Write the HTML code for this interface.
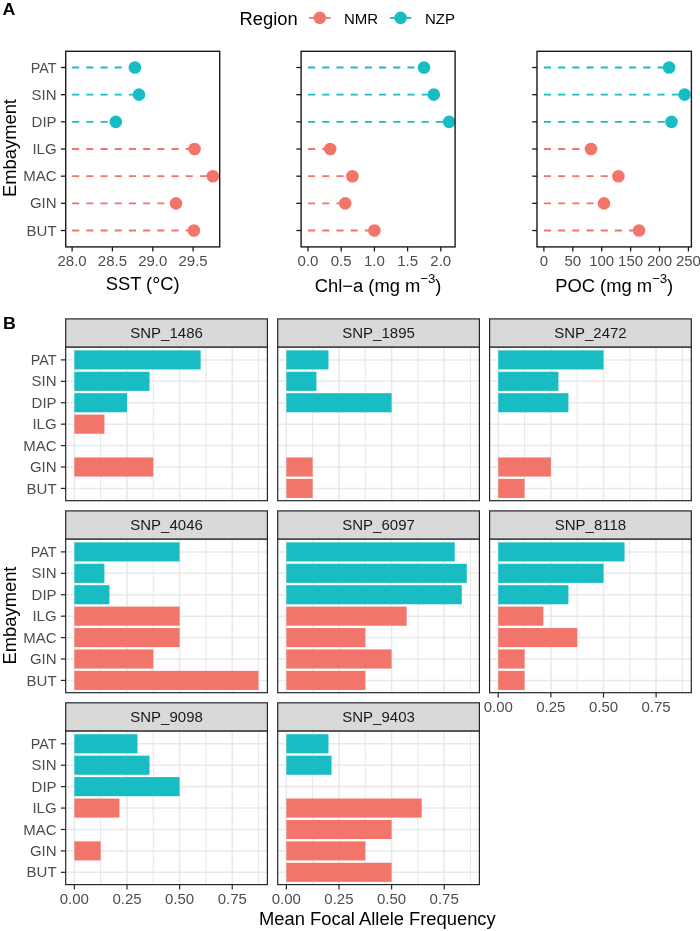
<!DOCTYPE html>
<html><head><meta charset="utf-8"><title>Figure</title>
<style>
html,body{margin:0;padding:0;background:#fff;}
body{width:700px;height:931px;overflow:hidden;}
svg{display:block;font-family:"Liberation Sans", sans-serif;will-change:transform;}
</style></head>
<body>
<svg width="700" height="931" viewBox="0 0 700 931">
<rect x="0" y="0" width="700" height="931" fill="#fff"/>
<clipPath id="clipA0"><rect x="65.7" y="51.3" width="154" height="195.6"/></clipPath>
<g clip-path="url(#clipA0)">
<line x1="72.1" y1="67.5" x2="134.9" y2="67.5" stroke="#17BDC3" stroke-width="1.8" stroke-dasharray="7.1 7.1"/>
<line x1="72.1" y1="94.67" x2="139" y2="94.67" stroke="#17BDC3" stroke-width="1.8" stroke-dasharray="7.1 7.1"/>
<line x1="72.1" y1="121.84" x2="115.8" y2="121.84" stroke="#17BDC3" stroke-width="1.8" stroke-dasharray="7.1 7.1"/>
<line x1="72.1" y1="149.01" x2="194.5" y2="149.01" stroke="#F2756C" stroke-width="1.8" stroke-dasharray="7.1 7.1"/>
<line x1="72.1" y1="176.18" x2="212.9" y2="176.18" stroke="#F2756C" stroke-width="1.8" stroke-dasharray="7.1 7.1"/>
<line x1="72.1" y1="203.35" x2="176" y2="203.35" stroke="#F2756C" stroke-width="1.8" stroke-dasharray="7.1 7.1"/>
<line x1="72.1" y1="230.52" x2="193.9" y2="230.52" stroke="#F2756C" stroke-width="1.8" stroke-dasharray="7.1 7.1"/>
<circle cx="134.9" cy="67.5" r="6.3" fill="#17BDC3"/>
<circle cx="139" cy="94.67" r="6.3" fill="#17BDC3"/>
<circle cx="115.8" cy="121.84" r="6.3" fill="#17BDC3"/>
<circle cx="194.5" cy="149.01" r="6.3" fill="#F2756C"/>
<circle cx="212.9" cy="176.18" r="6.3" fill="#F2756C"/>
<circle cx="176" cy="203.35" r="6.3" fill="#F2756C"/>
<circle cx="193.9" cy="230.52" r="6.3" fill="#F2756C"/>
</g>
<rect x="65.7" y="51.3" width="154" height="195.6" fill="none" stroke="#1A1A1A" stroke-width="1.4"/>
<line x1="60.9" y1="67.5" x2="65.7" y2="67.5" stroke="#1A1A1A" stroke-width="1.3"/>
<line x1="60.9" y1="94.67" x2="65.7" y2="94.67" stroke="#1A1A1A" stroke-width="1.3"/>
<line x1="60.9" y1="121.84" x2="65.7" y2="121.84" stroke="#1A1A1A" stroke-width="1.3"/>
<line x1="60.9" y1="149.01" x2="65.7" y2="149.01" stroke="#1A1A1A" stroke-width="1.3"/>
<line x1="60.9" y1="176.18" x2="65.7" y2="176.18" stroke="#1A1A1A" stroke-width="1.3"/>
<line x1="60.9" y1="203.35" x2="65.7" y2="203.35" stroke="#1A1A1A" stroke-width="1.3"/>
<line x1="60.9" y1="230.52" x2="65.7" y2="230.52" stroke="#1A1A1A" stroke-width="1.3"/>
<line x1="72.1" y1="246.9" x2="72.1" y2="251.4" stroke="#1A1A1A" stroke-width="1.3"/>
<text x="72.1" y="265.6" font-size="15" text-anchor="middle" fill="#4D4D4D" font-weight="normal" >28.0</text>
<line x1="112.4" y1="246.9" x2="112.4" y2="251.4" stroke="#1A1A1A" stroke-width="1.3"/>
<text x="112.4" y="265.6" font-size="15" text-anchor="middle" fill="#4D4D4D" font-weight="normal" >28.5</text>
<line x1="152.8" y1="246.9" x2="152.8" y2="251.4" stroke="#1A1A1A" stroke-width="1.3"/>
<text x="152.8" y="265.6" font-size="15" text-anchor="middle" fill="#4D4D4D" font-weight="normal" >29.0</text>
<line x1="193.1" y1="246.9" x2="193.1" y2="251.4" stroke="#1A1A1A" stroke-width="1.3"/>
<text x="193.1" y="265.6" font-size="15" text-anchor="middle" fill="#4D4D4D" font-weight="normal" >29.5</text>
<clipPath id="clipA1"><rect x="301.1" y="51.3" width="154" height="195.6"/></clipPath>
<g clip-path="url(#clipA1)">
<line x1="308.0" y1="67.5" x2="424" y2="67.5" stroke="#17BDC3" stroke-width="1.8" stroke-dasharray="7.1 7.1"/>
<line x1="308.0" y1="94.67" x2="433.8" y2="94.67" stroke="#17BDC3" stroke-width="1.8" stroke-dasharray="7.1 7.1"/>
<line x1="308.0" y1="121.84" x2="449.1" y2="121.84" stroke="#17BDC3" stroke-width="1.8" stroke-dasharray="7.1 7.1"/>
<line x1="308.0" y1="149.01" x2="330.2" y2="149.01" stroke="#F2756C" stroke-width="1.8" stroke-dasharray="7.1 7.1"/>
<line x1="308.0" y1="176.18" x2="352.4" y2="176.18" stroke="#F2756C" stroke-width="1.8" stroke-dasharray="7.1 7.1"/>
<line x1="308.0" y1="203.35" x2="345.2" y2="203.35" stroke="#F2756C" stroke-width="1.8" stroke-dasharray="7.1 7.1"/>
<line x1="308.0" y1="230.52" x2="374.4" y2="230.52" stroke="#F2756C" stroke-width="1.8" stroke-dasharray="7.1 7.1"/>
<circle cx="424" cy="67.5" r="6.3" fill="#17BDC3"/>
<circle cx="433.8" cy="94.67" r="6.3" fill="#17BDC3"/>
<circle cx="449.1" cy="121.84" r="6.3" fill="#17BDC3"/>
<circle cx="330.2" cy="149.01" r="6.3" fill="#F2756C"/>
<circle cx="352.4" cy="176.18" r="6.3" fill="#F2756C"/>
<circle cx="345.2" cy="203.35" r="6.3" fill="#F2756C"/>
<circle cx="374.4" cy="230.52" r="6.3" fill="#F2756C"/>
</g>
<rect x="301.1" y="51.3" width="154" height="195.6" fill="none" stroke="#1A1A1A" stroke-width="1.4"/>
<line x1="296.3" y1="67.5" x2="301.1" y2="67.5" stroke="#1A1A1A" stroke-width="1.3"/>
<line x1="296.3" y1="94.67" x2="301.1" y2="94.67" stroke="#1A1A1A" stroke-width="1.3"/>
<line x1="296.3" y1="121.84" x2="301.1" y2="121.84" stroke="#1A1A1A" stroke-width="1.3"/>
<line x1="296.3" y1="149.01" x2="301.1" y2="149.01" stroke="#1A1A1A" stroke-width="1.3"/>
<line x1="296.3" y1="176.18" x2="301.1" y2="176.18" stroke="#1A1A1A" stroke-width="1.3"/>
<line x1="296.3" y1="203.35" x2="301.1" y2="203.35" stroke="#1A1A1A" stroke-width="1.3"/>
<line x1="296.3" y1="230.52" x2="301.1" y2="230.52" stroke="#1A1A1A" stroke-width="1.3"/>
<line x1="308.0" y1="246.9" x2="308.0" y2="251.4" stroke="#1A1A1A" stroke-width="1.3"/>
<text x="308" y="265.6" font-size="15" text-anchor="middle" fill="#4D4D4D" font-weight="normal" >0.0</text>
<line x1="341.2" y1="246.9" x2="341.2" y2="251.4" stroke="#1A1A1A" stroke-width="1.3"/>
<text x="341.2" y="265.6" font-size="15" text-anchor="middle" fill="#4D4D4D" font-weight="normal" >0.5</text>
<line x1="374.4" y1="246.9" x2="374.4" y2="251.4" stroke="#1A1A1A" stroke-width="1.3"/>
<text x="374.4" y="265.6" font-size="15" text-anchor="middle" fill="#4D4D4D" font-weight="normal" >1.0</text>
<line x1="407.6" y1="246.9" x2="407.6" y2="251.4" stroke="#1A1A1A" stroke-width="1.3"/>
<text x="407.6" y="265.6" font-size="15" text-anchor="middle" fill="#4D4D4D" font-weight="normal" >1.5</text>
<line x1="440.8" y1="246.9" x2="440.8" y2="251.4" stroke="#1A1A1A" stroke-width="1.3"/>
<text x="440.8" y="265.6" font-size="15" text-anchor="middle" fill="#4D4D4D" font-weight="normal" >2.0</text>
<clipPath id="clipA2"><rect x="537.0" y="51.3" width="154.4" height="195.6"/></clipPath>
<g clip-path="url(#clipA2)">
<line x1="543.9" y1="67.5" x2="669.1" y2="67.5" stroke="#17BDC3" stroke-width="1.8" stroke-dasharray="7.1 7.1"/>
<line x1="543.9" y1="94.67" x2="684.6" y2="94.67" stroke="#17BDC3" stroke-width="1.8" stroke-dasharray="7.1 7.1"/>
<line x1="543.9" y1="121.84" x2="671.5" y2="121.84" stroke="#17BDC3" stroke-width="1.8" stroke-dasharray="7.1 7.1"/>
<line x1="543.9" y1="149.01" x2="591" y2="149.01" stroke="#F2756C" stroke-width="1.8" stroke-dasharray="7.1 7.1"/>
<line x1="543.9" y1="176.18" x2="618.4" y2="176.18" stroke="#F2756C" stroke-width="1.8" stroke-dasharray="7.1 7.1"/>
<line x1="543.9" y1="203.35" x2="604" y2="203.35" stroke="#F2756C" stroke-width="1.8" stroke-dasharray="7.1 7.1"/>
<line x1="543.9" y1="230.52" x2="639" y2="230.52" stroke="#F2756C" stroke-width="1.8" stroke-dasharray="7.1 7.1"/>
<circle cx="669.1" cy="67.5" r="6.3" fill="#17BDC3"/>
<circle cx="684.6" cy="94.67" r="6.3" fill="#17BDC3"/>
<circle cx="671.5" cy="121.84" r="6.3" fill="#17BDC3"/>
<circle cx="591" cy="149.01" r="6.3" fill="#F2756C"/>
<circle cx="618.4" cy="176.18" r="6.3" fill="#F2756C"/>
<circle cx="604" cy="203.35" r="6.3" fill="#F2756C"/>
<circle cx="639" cy="230.52" r="6.3" fill="#F2756C"/>
</g>
<rect x="537.0" y="51.3" width="154.4" height="195.6" fill="none" stroke="#1A1A1A" stroke-width="1.4"/>
<line x1="532.2" y1="67.5" x2="537.0" y2="67.5" stroke="#1A1A1A" stroke-width="1.3"/>
<line x1="532.2" y1="94.67" x2="537.0" y2="94.67" stroke="#1A1A1A" stroke-width="1.3"/>
<line x1="532.2" y1="121.84" x2="537.0" y2="121.84" stroke="#1A1A1A" stroke-width="1.3"/>
<line x1="532.2" y1="149.01" x2="537.0" y2="149.01" stroke="#1A1A1A" stroke-width="1.3"/>
<line x1="532.2" y1="176.18" x2="537.0" y2="176.18" stroke="#1A1A1A" stroke-width="1.3"/>
<line x1="532.2" y1="203.35" x2="537.0" y2="203.35" stroke="#1A1A1A" stroke-width="1.3"/>
<line x1="532.2" y1="230.52" x2="537.0" y2="230.52" stroke="#1A1A1A" stroke-width="1.3"/>
<line x1="543.9" y1="246.9" x2="543.9" y2="251.4" stroke="#1A1A1A" stroke-width="1.3"/>
<text x="543.9" y="265.6" font-size="15" text-anchor="middle" fill="#4D4D4D" font-weight="normal" >0</text>
<line x1="572.8" y1="246.9" x2="572.8" y2="251.4" stroke="#1A1A1A" stroke-width="1.3"/>
<text x="572.8" y="265.6" font-size="15" text-anchor="middle" fill="#4D4D4D" font-weight="normal" >50</text>
<line x1="601.7" y1="246.9" x2="601.7" y2="251.4" stroke="#1A1A1A" stroke-width="1.3"/>
<text x="601.7" y="265.6" font-size="15" text-anchor="middle" fill="#4D4D4D" font-weight="normal" >100</text>
<line x1="630.6" y1="246.9" x2="630.6" y2="251.4" stroke="#1A1A1A" stroke-width="1.3"/>
<text x="630.6" y="265.6" font-size="15" text-anchor="middle" fill="#4D4D4D" font-weight="normal" >150</text>
<line x1="659.5" y1="246.9" x2="659.5" y2="251.4" stroke="#1A1A1A" stroke-width="1.3"/>
<text x="659.5" y="265.6" font-size="15" text-anchor="middle" fill="#4D4D4D" font-weight="normal" >200</text>
<line x1="688.4" y1="246.9" x2="688.4" y2="251.4" stroke="#1A1A1A" stroke-width="1.3"/>
<text x="688.4" y="265.6" font-size="15" text-anchor="middle" fill="#4D4D4D" font-weight="normal" >250</text>
<text transform="translate(56.6 72.6) scale(0.958 1)" font-size="15" text-anchor="end" fill="#4D4D4D" font-weight="normal" >PAT</text>
<text x="56.6" y="99.77" font-size="15" text-anchor="end" fill="#4D4D4D" font-weight="normal" >SIN</text>
<text x="56.6" y="126.94" font-size="15" text-anchor="end" fill="#4D4D4D" font-weight="normal" >DIP</text>
<text x="56.6" y="154.11" font-size="15" text-anchor="end" fill="#4D4D4D" font-weight="normal" >ILG</text>
<text x="56.6" y="181.28" font-size="15" text-anchor="end" fill="#4D4D4D" font-weight="normal" >MAC</text>
<text x="56.6" y="208.45" font-size="15" text-anchor="end" fill="#4D4D4D" font-weight="normal" >GIN</text>
<text x="56.6" y="235.62" font-size="15" text-anchor="end" fill="#4D4D4D" font-weight="normal" >BUT</text>
<text transform="translate(142.7 289.8) scale(1.02 1)" font-size="18" text-anchor="middle" fill="#000" font-weight="normal" >SST (<tspan font-size="20" dy="2.5">°</tspan><tspan dy="-2.5">C)</tspan></text>
<text transform="translate(378.1 291.6) scale(1.02 1)" font-size="18" text-anchor="middle" fill="#000" font-weight="normal" >Chl−a (mg m<tspan dy="-8.3" font-size="13">−3</tspan><tspan dy="8.3">)</tspan></text>
<text transform="translate(614.2 291.6) scale(1.02 1)" font-size="18" text-anchor="middle" fill="#000" font-weight="normal" >POC (mg m<tspan dy="-8.3" font-size="13">−3</tspan><tspan dy="8.3">)</tspan></text>
<text transform="translate(16.3 148) rotate(-90) scale(1.02 1)" font-size="18" text-anchor="middle" fill="#000">Embayment</text>
<text transform="translate(239.6 25.2) scale(1.02 1)" font-size="18" text-anchor="start" fill="#000" font-weight="normal" >Region</text>
<line x1="309" y1="17.9" x2="330.6" y2="17.9" stroke="#F2756C" stroke-width="1.8"/>
<circle cx="319.8" cy="17.9" r="6.3" fill="#F2756C"/>
<text x="344" y="23.9" font-size="15" text-anchor="start" fill="#000" font-weight="normal" >NMR</text>
<line x1="389.8" y1="17.9" x2="411.4" y2="17.9" stroke="#17BDC3" stroke-width="1.8"/>
<circle cx="400.6" cy="17.9" r="6.3" fill="#17BDC3"/>
<text x="425" y="23.9" font-size="15" text-anchor="start" fill="#000" font-weight="normal" >NZP</text>
<text transform="translate(2.6 14.9) scale(1.08 1)" font-size="16.5" text-anchor="start" fill="#000" font-weight="bold" >A</text>
<text transform="translate(2.9 329.2) scale(1.08 1)" font-size="16.5" text-anchor="start" fill="#000" font-weight="bold" >B</text>
<line x1="100.66" y1="347" x2="100.66" y2="500.7" stroke="#E9E9E9" stroke-width="1.15"/>
<line x1="153.29" y1="347" x2="153.29" y2="500.7" stroke="#E9E9E9" stroke-width="1.15"/>
<line x1="205.91" y1="347" x2="205.91" y2="500.7" stroke="#E9E9E9" stroke-width="1.15"/>
<line x1="258.54" y1="347" x2="258.54" y2="500.7" stroke="#E9E9E9" stroke-width="1.15"/>
<line x1="74.35" y1="347" x2="74.35" y2="500.7" stroke="#E9E9E9" stroke-width="1.55"/>
<line x1="126.98" y1="347" x2="126.98" y2="500.7" stroke="#E9E9E9" stroke-width="1.55"/>
<line x1="179.6" y1="347" x2="179.6" y2="500.7" stroke="#E9E9E9" stroke-width="1.55"/>
<line x1="232.23" y1="347" x2="232.23" y2="500.7" stroke="#E9E9E9" stroke-width="1.55"/>
<line x1="65.7" y1="359.9" x2="267.4" y2="359.9" stroke="#E9E9E9" stroke-width="1.55"/>
<line x1="65.7" y1="381.32" x2="267.4" y2="381.32" stroke="#E9E9E9" stroke-width="1.55"/>
<line x1="65.7" y1="402.74" x2="267.4" y2="402.74" stroke="#E9E9E9" stroke-width="1.55"/>
<line x1="65.7" y1="424.16" x2="267.4" y2="424.16" stroke="#E9E9E9" stroke-width="1.55"/>
<line x1="65.7" y1="445.58" x2="267.4" y2="445.58" stroke="#E9E9E9" stroke-width="1.55"/>
<line x1="65.7" y1="467" x2="267.4" y2="467" stroke="#E9E9E9" stroke-width="1.55"/>
<line x1="65.7" y1="488.42" x2="267.4" y2="488.42" stroke="#E9E9E9" stroke-width="1.55"/>
<rect x="74.35" y="350.35" width="126.3" height="19.1" fill="#17BDC3"/>
<rect x="74.35" y="371.77" width="75.18" height="19.1" fill="#17BDC3"/>
<rect x="74.35" y="393.19" width="52.62" height="19.1" fill="#17BDC3"/>
<rect x="74.35" y="414.61" width="30.07" height="19.1" fill="#F2756C"/>
<rect x="74.35" y="457.45" width="78.94" height="19.1" fill="#F2756C"/>
<rect x="65.7" y="347" width="201.7" height="153.7" fill="none" stroke="#262626" stroke-width="1.2"/>
<rect x="65.7" y="318.9" width="201.7" height="28.1" fill="#D9D9D9" stroke="#262626" stroke-width="1.2"/>
<text x="166.55" y="337.95" font-size="15" text-anchor="middle" fill="#1A1A1A" font-weight="normal" >SNP_1486</text>
<line x1="60.9" y1="359.9" x2="65.7" y2="359.9" stroke="#262626" stroke-width="1.2"/>
<text transform="translate(56.6 365) scale(0.958 1)" font-size="15" text-anchor="end" fill="#4D4D4D" font-weight="normal" >PAT</text>
<line x1="60.9" y1="381.32" x2="65.7" y2="381.32" stroke="#262626" stroke-width="1.2"/>
<text x="56.6" y="386.42" font-size="15" text-anchor="end" fill="#4D4D4D" font-weight="normal" >SIN</text>
<line x1="60.9" y1="402.74" x2="65.7" y2="402.74" stroke="#262626" stroke-width="1.2"/>
<text x="56.6" y="407.84" font-size="15" text-anchor="end" fill="#4D4D4D" font-weight="normal" >DIP</text>
<line x1="60.9" y1="424.16" x2="65.7" y2="424.16" stroke="#262626" stroke-width="1.2"/>
<text x="56.6" y="429.26" font-size="15" text-anchor="end" fill="#4D4D4D" font-weight="normal" >ILG</text>
<line x1="60.9" y1="445.58" x2="65.7" y2="445.58" stroke="#262626" stroke-width="1.2"/>
<text x="56.6" y="450.68" font-size="15" text-anchor="end" fill="#4D4D4D" font-weight="normal" >MAC</text>
<line x1="60.9" y1="467" x2="65.7" y2="467" stroke="#262626" stroke-width="1.2"/>
<text x="56.6" y="472.1" font-size="15" text-anchor="end" fill="#4D4D4D" font-weight="normal" >GIN</text>
<line x1="60.9" y1="488.42" x2="65.7" y2="488.42" stroke="#262626" stroke-width="1.2"/>
<text x="56.6" y="493.52" font-size="15" text-anchor="end" fill="#4D4D4D" font-weight="normal" >BUT</text>
<line x1="312.66" y1="347" x2="312.66" y2="500.7" stroke="#E9E9E9" stroke-width="1.15"/>
<line x1="365.29" y1="347" x2="365.29" y2="500.7" stroke="#E9E9E9" stroke-width="1.15"/>
<line x1="417.91" y1="347" x2="417.91" y2="500.7" stroke="#E9E9E9" stroke-width="1.15"/>
<line x1="470.54" y1="347" x2="470.54" y2="500.7" stroke="#E9E9E9" stroke-width="1.15"/>
<line x1="286.35" y1="347" x2="286.35" y2="500.7" stroke="#E9E9E9" stroke-width="1.55"/>
<line x1="338.97" y1="347" x2="338.97" y2="500.7" stroke="#E9E9E9" stroke-width="1.55"/>
<line x1="391.6" y1="347" x2="391.6" y2="500.7" stroke="#E9E9E9" stroke-width="1.55"/>
<line x1="444.22" y1="347" x2="444.22" y2="500.7" stroke="#E9E9E9" stroke-width="1.55"/>
<line x1="277.7" y1="359.9" x2="479.4" y2="359.9" stroke="#E9E9E9" stroke-width="1.55"/>
<line x1="277.7" y1="381.32" x2="479.4" y2="381.32" stroke="#E9E9E9" stroke-width="1.55"/>
<line x1="277.7" y1="402.74" x2="479.4" y2="402.74" stroke="#E9E9E9" stroke-width="1.55"/>
<line x1="277.7" y1="424.16" x2="479.4" y2="424.16" stroke="#E9E9E9" stroke-width="1.55"/>
<line x1="277.7" y1="445.58" x2="479.4" y2="445.58" stroke="#E9E9E9" stroke-width="1.55"/>
<line x1="277.7" y1="467" x2="479.4" y2="467" stroke="#E9E9E9" stroke-width="1.55"/>
<line x1="277.7" y1="488.42" x2="479.4" y2="488.42" stroke="#E9E9E9" stroke-width="1.55"/>
<rect x="286.35" y="350.35" width="42.1" height="19.1" fill="#17BDC3"/>
<rect x="286.35" y="371.77" width="30.07" height="19.1" fill="#17BDC3"/>
<rect x="286.35" y="393.19" width="105.25" height="19.1" fill="#17BDC3"/>
<rect x="286.35" y="457.45" width="26.31" height="19.1" fill="#F2756C"/>
<rect x="286.35" y="478.87" width="26.31" height="19.1" fill="#F2756C"/>
<rect x="277.7" y="347" width="201.7" height="153.7" fill="none" stroke="#262626" stroke-width="1.2"/>
<rect x="277.7" y="318.9" width="201.7" height="28.1" fill="#D9D9D9" stroke="#262626" stroke-width="1.2"/>
<text x="378.55" y="337.95" font-size="15" text-anchor="middle" fill="#1A1A1A" font-weight="normal" >SNP_1895</text>
<line x1="524.56" y1="347" x2="524.56" y2="500.7" stroke="#E9E9E9" stroke-width="1.15"/>
<line x1="577.19" y1="347" x2="577.19" y2="500.7" stroke="#E9E9E9" stroke-width="1.15"/>
<line x1="629.81" y1="347" x2="629.81" y2="500.7" stroke="#E9E9E9" stroke-width="1.15"/>
<line x1="682.44" y1="347" x2="682.44" y2="500.7" stroke="#E9E9E9" stroke-width="1.15"/>
<line x1="498.25" y1="347" x2="498.25" y2="500.7" stroke="#E9E9E9" stroke-width="1.55"/>
<line x1="550.88" y1="347" x2="550.88" y2="500.7" stroke="#E9E9E9" stroke-width="1.55"/>
<line x1="603.5" y1="347" x2="603.5" y2="500.7" stroke="#E9E9E9" stroke-width="1.55"/>
<line x1="656.12" y1="347" x2="656.12" y2="500.7" stroke="#E9E9E9" stroke-width="1.55"/>
<line x1="489.6" y1="359.9" x2="691.3" y2="359.9" stroke="#E9E9E9" stroke-width="1.55"/>
<line x1="489.6" y1="381.32" x2="691.3" y2="381.32" stroke="#E9E9E9" stroke-width="1.55"/>
<line x1="489.6" y1="402.74" x2="691.3" y2="402.74" stroke="#E9E9E9" stroke-width="1.55"/>
<line x1="489.6" y1="424.16" x2="691.3" y2="424.16" stroke="#E9E9E9" stroke-width="1.55"/>
<line x1="489.6" y1="445.58" x2="691.3" y2="445.58" stroke="#E9E9E9" stroke-width="1.55"/>
<line x1="489.6" y1="467" x2="691.3" y2="467" stroke="#E9E9E9" stroke-width="1.55"/>
<line x1="489.6" y1="488.42" x2="691.3" y2="488.42" stroke="#E9E9E9" stroke-width="1.55"/>
<rect x="498.25" y="350.35" width="105.25" height="19.1" fill="#17BDC3"/>
<rect x="498.25" y="371.77" width="60.14" height="19.1" fill="#17BDC3"/>
<rect x="498.25" y="393.19" width="70.17" height="19.1" fill="#17BDC3"/>
<rect x="498.25" y="457.45" width="52.62" height="19.1" fill="#F2756C"/>
<rect x="498.25" y="478.87" width="26.31" height="19.1" fill="#F2756C"/>
<rect x="489.6" y="347" width="201.7" height="153.7" fill="none" stroke="#262626" stroke-width="1.2"/>
<rect x="489.6" y="318.9" width="201.7" height="28.1" fill="#D9D9D9" stroke="#262626" stroke-width="1.2"/>
<text x="590.45" y="337.95" font-size="15" text-anchor="middle" fill="#1A1A1A" font-weight="normal" >SNP_2472</text>
<line x1="100.66" y1="539" x2="100.66" y2="692.7" stroke="#E9E9E9" stroke-width="1.15"/>
<line x1="153.29" y1="539" x2="153.29" y2="692.7" stroke="#E9E9E9" stroke-width="1.15"/>
<line x1="205.91" y1="539" x2="205.91" y2="692.7" stroke="#E9E9E9" stroke-width="1.15"/>
<line x1="258.54" y1="539" x2="258.54" y2="692.7" stroke="#E9E9E9" stroke-width="1.15"/>
<line x1="74.35" y1="539" x2="74.35" y2="692.7" stroke="#E9E9E9" stroke-width="1.55"/>
<line x1="126.98" y1="539" x2="126.98" y2="692.7" stroke="#E9E9E9" stroke-width="1.55"/>
<line x1="179.6" y1="539" x2="179.6" y2="692.7" stroke="#E9E9E9" stroke-width="1.55"/>
<line x1="232.23" y1="539" x2="232.23" y2="692.7" stroke="#E9E9E9" stroke-width="1.55"/>
<line x1="65.7" y1="551.9" x2="267.4" y2="551.9" stroke="#E9E9E9" stroke-width="1.55"/>
<line x1="65.7" y1="573.32" x2="267.4" y2="573.32" stroke="#E9E9E9" stroke-width="1.55"/>
<line x1="65.7" y1="594.74" x2="267.4" y2="594.74" stroke="#E9E9E9" stroke-width="1.55"/>
<line x1="65.7" y1="616.16" x2="267.4" y2="616.16" stroke="#E9E9E9" stroke-width="1.55"/>
<line x1="65.7" y1="637.58" x2="267.4" y2="637.58" stroke="#E9E9E9" stroke-width="1.55"/>
<line x1="65.7" y1="659" x2="267.4" y2="659" stroke="#E9E9E9" stroke-width="1.55"/>
<line x1="65.7" y1="680.42" x2="267.4" y2="680.42" stroke="#E9E9E9" stroke-width="1.55"/>
<rect x="74.35" y="542.35" width="105.25" height="19.1" fill="#17BDC3"/>
<rect x="74.35" y="563.77" width="30.07" height="19.1" fill="#17BDC3"/>
<rect x="74.35" y="585.19" width="35.08" height="19.1" fill="#17BDC3"/>
<rect x="74.35" y="606.61" width="105.25" height="19.1" fill="#F2756C"/>
<rect x="74.35" y="628.03" width="105.25" height="19.1" fill="#F2756C"/>
<rect x="74.35" y="649.45" width="78.94" height="19.1" fill="#F2756C"/>
<rect x="74.35" y="670.87" width="184.19" height="19.1" fill="#F2756C"/>
<rect x="65.7" y="539" width="201.7" height="153.7" fill="none" stroke="#262626" stroke-width="1.2"/>
<rect x="65.7" y="510.9" width="201.7" height="28.1" fill="#D9D9D9" stroke="#262626" stroke-width="1.2"/>
<text x="166.55" y="529.95" font-size="15" text-anchor="middle" fill="#1A1A1A" font-weight="normal" >SNP_4046</text>
<line x1="60.9" y1="551.9" x2="65.7" y2="551.9" stroke="#262626" stroke-width="1.2"/>
<text transform="translate(56.6 557) scale(0.958 1)" font-size="15" text-anchor="end" fill="#4D4D4D" font-weight="normal" >PAT</text>
<line x1="60.9" y1="573.32" x2="65.7" y2="573.32" stroke="#262626" stroke-width="1.2"/>
<text x="56.6" y="578.42" font-size="15" text-anchor="end" fill="#4D4D4D" font-weight="normal" >SIN</text>
<line x1="60.9" y1="594.74" x2="65.7" y2="594.74" stroke="#262626" stroke-width="1.2"/>
<text x="56.6" y="599.84" font-size="15" text-anchor="end" fill="#4D4D4D" font-weight="normal" >DIP</text>
<line x1="60.9" y1="616.16" x2="65.7" y2="616.16" stroke="#262626" stroke-width="1.2"/>
<text x="56.6" y="621.26" font-size="15" text-anchor="end" fill="#4D4D4D" font-weight="normal" >ILG</text>
<line x1="60.9" y1="637.58" x2="65.7" y2="637.58" stroke="#262626" stroke-width="1.2"/>
<text x="56.6" y="642.68" font-size="15" text-anchor="end" fill="#4D4D4D" font-weight="normal" >MAC</text>
<line x1="60.9" y1="659" x2="65.7" y2="659" stroke="#262626" stroke-width="1.2"/>
<text x="56.6" y="664.1" font-size="15" text-anchor="end" fill="#4D4D4D" font-weight="normal" >GIN</text>
<line x1="60.9" y1="680.42" x2="65.7" y2="680.42" stroke="#262626" stroke-width="1.2"/>
<text x="56.6" y="685.52" font-size="15" text-anchor="end" fill="#4D4D4D" font-weight="normal" >BUT</text>
<line x1="312.66" y1="539" x2="312.66" y2="692.7" stroke="#E9E9E9" stroke-width="1.15"/>
<line x1="365.29" y1="539" x2="365.29" y2="692.7" stroke="#E9E9E9" stroke-width="1.15"/>
<line x1="417.91" y1="539" x2="417.91" y2="692.7" stroke="#E9E9E9" stroke-width="1.15"/>
<line x1="470.54" y1="539" x2="470.54" y2="692.7" stroke="#E9E9E9" stroke-width="1.15"/>
<line x1="286.35" y1="539" x2="286.35" y2="692.7" stroke="#E9E9E9" stroke-width="1.55"/>
<line x1="338.97" y1="539" x2="338.97" y2="692.7" stroke="#E9E9E9" stroke-width="1.55"/>
<line x1="391.6" y1="539" x2="391.6" y2="692.7" stroke="#E9E9E9" stroke-width="1.55"/>
<line x1="444.22" y1="539" x2="444.22" y2="692.7" stroke="#E9E9E9" stroke-width="1.55"/>
<line x1="277.7" y1="551.9" x2="479.4" y2="551.9" stroke="#E9E9E9" stroke-width="1.55"/>
<line x1="277.7" y1="573.32" x2="479.4" y2="573.32" stroke="#E9E9E9" stroke-width="1.55"/>
<line x1="277.7" y1="594.74" x2="479.4" y2="594.74" stroke="#E9E9E9" stroke-width="1.55"/>
<line x1="277.7" y1="616.16" x2="479.4" y2="616.16" stroke="#E9E9E9" stroke-width="1.55"/>
<line x1="277.7" y1="637.58" x2="479.4" y2="637.58" stroke="#E9E9E9" stroke-width="1.55"/>
<line x1="277.7" y1="659" x2="479.4" y2="659" stroke="#E9E9E9" stroke-width="1.55"/>
<line x1="277.7" y1="680.42" x2="479.4" y2="680.42" stroke="#E9E9E9" stroke-width="1.55"/>
<rect x="286.35" y="542.35" width="168.4" height="19.1" fill="#17BDC3"/>
<rect x="286.35" y="563.77" width="180.43" height="19.1" fill="#17BDC3"/>
<rect x="286.35" y="585.19" width="175.42" height="19.1" fill="#17BDC3"/>
<rect x="286.35" y="606.61" width="120.29" height="19.1" fill="#F2756C"/>
<rect x="286.35" y="628.03" width="78.94" height="19.1" fill="#F2756C"/>
<rect x="286.35" y="649.45" width="105.25" height="19.1" fill="#F2756C"/>
<rect x="286.35" y="670.87" width="78.94" height="19.1" fill="#F2756C"/>
<rect x="277.7" y="539" width="201.7" height="153.7" fill="none" stroke="#262626" stroke-width="1.2"/>
<rect x="277.7" y="510.9" width="201.7" height="28.1" fill="#D9D9D9" stroke="#262626" stroke-width="1.2"/>
<text x="378.55" y="529.95" font-size="15" text-anchor="middle" fill="#1A1A1A" font-weight="normal" >SNP_6097</text>
<line x1="524.56" y1="539" x2="524.56" y2="692.7" stroke="#E9E9E9" stroke-width="1.15"/>
<line x1="577.19" y1="539" x2="577.19" y2="692.7" stroke="#E9E9E9" stroke-width="1.15"/>
<line x1="629.81" y1="539" x2="629.81" y2="692.7" stroke="#E9E9E9" stroke-width="1.15"/>
<line x1="682.44" y1="539" x2="682.44" y2="692.7" stroke="#E9E9E9" stroke-width="1.15"/>
<line x1="498.25" y1="539" x2="498.25" y2="692.7" stroke="#E9E9E9" stroke-width="1.55"/>
<line x1="550.88" y1="539" x2="550.88" y2="692.7" stroke="#E9E9E9" stroke-width="1.55"/>
<line x1="603.5" y1="539" x2="603.5" y2="692.7" stroke="#E9E9E9" stroke-width="1.55"/>
<line x1="656.12" y1="539" x2="656.12" y2="692.7" stroke="#E9E9E9" stroke-width="1.55"/>
<line x1="489.6" y1="551.9" x2="691.3" y2="551.9" stroke="#E9E9E9" stroke-width="1.55"/>
<line x1="489.6" y1="573.32" x2="691.3" y2="573.32" stroke="#E9E9E9" stroke-width="1.55"/>
<line x1="489.6" y1="594.74" x2="691.3" y2="594.74" stroke="#E9E9E9" stroke-width="1.55"/>
<line x1="489.6" y1="616.16" x2="691.3" y2="616.16" stroke="#E9E9E9" stroke-width="1.55"/>
<line x1="489.6" y1="637.58" x2="691.3" y2="637.58" stroke="#E9E9E9" stroke-width="1.55"/>
<line x1="489.6" y1="659" x2="691.3" y2="659" stroke="#E9E9E9" stroke-width="1.55"/>
<line x1="489.6" y1="680.42" x2="691.3" y2="680.42" stroke="#E9E9E9" stroke-width="1.55"/>
<rect x="498.25" y="542.35" width="126.3" height="19.1" fill="#17BDC3"/>
<rect x="498.25" y="563.77" width="105.25" height="19.1" fill="#17BDC3"/>
<rect x="498.25" y="585.19" width="70.17" height="19.1" fill="#17BDC3"/>
<rect x="498.25" y="606.61" width="45.11" height="19.1" fill="#F2756C"/>
<rect x="498.25" y="628.03" width="78.94" height="19.1" fill="#F2756C"/>
<rect x="498.25" y="649.45" width="26.31" height="19.1" fill="#F2756C"/>
<rect x="498.25" y="670.87" width="26.31" height="19.1" fill="#F2756C"/>
<rect x="489.6" y="539" width="201.7" height="153.7" fill="none" stroke="#262626" stroke-width="1.2"/>
<rect x="489.6" y="510.9" width="201.7" height="28.1" fill="#D9D9D9" stroke="#262626" stroke-width="1.2"/>
<text x="590.45" y="529.95" font-size="15" text-anchor="middle" fill="#1A1A1A" font-weight="normal" >SNP_8118</text>
<line x1="498.25" y1="692.7" x2="498.25" y2="697.6" stroke="#262626" stroke-width="1.2"/>
<text x="498.25" y="711.9" font-size="15" text-anchor="middle" fill="#4D4D4D" font-weight="normal" >0.00</text>
<line x1="550.88" y1="692.7" x2="550.88" y2="697.6" stroke="#262626" stroke-width="1.2"/>
<text x="550.88" y="711.9" font-size="15" text-anchor="middle" fill="#4D4D4D" font-weight="normal" >0.25</text>
<line x1="603.5" y1="692.7" x2="603.5" y2="697.6" stroke="#262626" stroke-width="1.2"/>
<text x="603.5" y="711.9" font-size="15" text-anchor="middle" fill="#4D4D4D" font-weight="normal" >0.50</text>
<line x1="656.12" y1="692.7" x2="656.12" y2="697.6" stroke="#262626" stroke-width="1.2"/>
<text x="656.12" y="711.9" font-size="15" text-anchor="middle" fill="#4D4D4D" font-weight="normal" >0.75</text>
<line x1="100.66" y1="730.9" x2="100.66" y2="884.6" stroke="#E9E9E9" stroke-width="1.15"/>
<line x1="153.29" y1="730.9" x2="153.29" y2="884.6" stroke="#E9E9E9" stroke-width="1.15"/>
<line x1="205.91" y1="730.9" x2="205.91" y2="884.6" stroke="#E9E9E9" stroke-width="1.15"/>
<line x1="258.54" y1="730.9" x2="258.54" y2="884.6" stroke="#E9E9E9" stroke-width="1.15"/>
<line x1="74.35" y1="730.9" x2="74.35" y2="884.6" stroke="#E9E9E9" stroke-width="1.55"/>
<line x1="126.98" y1="730.9" x2="126.98" y2="884.6" stroke="#E9E9E9" stroke-width="1.55"/>
<line x1="179.6" y1="730.9" x2="179.6" y2="884.6" stroke="#E9E9E9" stroke-width="1.55"/>
<line x1="232.23" y1="730.9" x2="232.23" y2="884.6" stroke="#E9E9E9" stroke-width="1.55"/>
<line x1="65.7" y1="743.8" x2="267.4" y2="743.8" stroke="#E9E9E9" stroke-width="1.55"/>
<line x1="65.7" y1="765.22" x2="267.4" y2="765.22" stroke="#E9E9E9" stroke-width="1.55"/>
<line x1="65.7" y1="786.64" x2="267.4" y2="786.64" stroke="#E9E9E9" stroke-width="1.55"/>
<line x1="65.7" y1="808.06" x2="267.4" y2="808.06" stroke="#E9E9E9" stroke-width="1.55"/>
<line x1="65.7" y1="829.48" x2="267.4" y2="829.48" stroke="#E9E9E9" stroke-width="1.55"/>
<line x1="65.7" y1="850.9" x2="267.4" y2="850.9" stroke="#E9E9E9" stroke-width="1.55"/>
<line x1="65.7" y1="872.32" x2="267.4" y2="872.32" stroke="#E9E9E9" stroke-width="1.55"/>
<rect x="74.35" y="734.25" width="63.15" height="19.1" fill="#17BDC3"/>
<rect x="74.35" y="755.67" width="75.18" height="19.1" fill="#17BDC3"/>
<rect x="74.35" y="777.09" width="105.25" height="19.1" fill="#17BDC3"/>
<rect x="74.35" y="798.51" width="45.11" height="19.1" fill="#F2756C"/>
<rect x="74.35" y="841.35" width="26.31" height="19.1" fill="#F2756C"/>
<rect x="65.7" y="730.9" width="201.7" height="153.7" fill="none" stroke="#262626" stroke-width="1.2"/>
<rect x="65.7" y="702.8" width="201.7" height="28.1" fill="#D9D9D9" stroke="#262626" stroke-width="1.2"/>
<text x="166.55" y="721.85" font-size="15" text-anchor="middle" fill="#1A1A1A" font-weight="normal" >SNP_9098</text>
<line x1="60.9" y1="743.8" x2="65.7" y2="743.8" stroke="#262626" stroke-width="1.2"/>
<text transform="translate(56.6 748.9) scale(0.958 1)" font-size="15" text-anchor="end" fill="#4D4D4D" font-weight="normal" >PAT</text>
<line x1="60.9" y1="765.22" x2="65.7" y2="765.22" stroke="#262626" stroke-width="1.2"/>
<text x="56.6" y="770.32" font-size="15" text-anchor="end" fill="#4D4D4D" font-weight="normal" >SIN</text>
<line x1="60.9" y1="786.64" x2="65.7" y2="786.64" stroke="#262626" stroke-width="1.2"/>
<text x="56.6" y="791.74" font-size="15" text-anchor="end" fill="#4D4D4D" font-weight="normal" >DIP</text>
<line x1="60.9" y1="808.06" x2="65.7" y2="808.06" stroke="#262626" stroke-width="1.2"/>
<text x="56.6" y="813.16" font-size="15" text-anchor="end" fill="#4D4D4D" font-weight="normal" >ILG</text>
<line x1="60.9" y1="829.48" x2="65.7" y2="829.48" stroke="#262626" stroke-width="1.2"/>
<text x="56.6" y="834.58" font-size="15" text-anchor="end" fill="#4D4D4D" font-weight="normal" >MAC</text>
<line x1="60.9" y1="850.9" x2="65.7" y2="850.9" stroke="#262626" stroke-width="1.2"/>
<text x="56.6" y="856" font-size="15" text-anchor="end" fill="#4D4D4D" font-weight="normal" >GIN</text>
<line x1="60.9" y1="872.32" x2="65.7" y2="872.32" stroke="#262626" stroke-width="1.2"/>
<text x="56.6" y="877.42" font-size="15" text-anchor="end" fill="#4D4D4D" font-weight="normal" >BUT</text>
<line x1="74.35" y1="884.6" x2="74.35" y2="889.5" stroke="#262626" stroke-width="1.2"/>
<text x="74.35" y="903.8" font-size="15" text-anchor="middle" fill="#4D4D4D" font-weight="normal" >0.00</text>
<line x1="126.98" y1="884.6" x2="126.98" y2="889.5" stroke="#262626" stroke-width="1.2"/>
<text x="126.98" y="903.8" font-size="15" text-anchor="middle" fill="#4D4D4D" font-weight="normal" >0.25</text>
<line x1="179.6" y1="884.6" x2="179.6" y2="889.5" stroke="#262626" stroke-width="1.2"/>
<text x="179.6" y="903.8" font-size="15" text-anchor="middle" fill="#4D4D4D" font-weight="normal" >0.50</text>
<line x1="232.23" y1="884.6" x2="232.23" y2="889.5" stroke="#262626" stroke-width="1.2"/>
<text x="232.23" y="903.8" font-size="15" text-anchor="middle" fill="#4D4D4D" font-weight="normal" >0.75</text>
<line x1="312.66" y1="730.9" x2="312.66" y2="884.6" stroke="#E9E9E9" stroke-width="1.15"/>
<line x1="365.29" y1="730.9" x2="365.29" y2="884.6" stroke="#E9E9E9" stroke-width="1.15"/>
<line x1="417.91" y1="730.9" x2="417.91" y2="884.6" stroke="#E9E9E9" stroke-width="1.15"/>
<line x1="470.54" y1="730.9" x2="470.54" y2="884.6" stroke="#E9E9E9" stroke-width="1.15"/>
<line x1="286.35" y1="730.9" x2="286.35" y2="884.6" stroke="#E9E9E9" stroke-width="1.55"/>
<line x1="338.97" y1="730.9" x2="338.97" y2="884.6" stroke="#E9E9E9" stroke-width="1.55"/>
<line x1="391.6" y1="730.9" x2="391.6" y2="884.6" stroke="#E9E9E9" stroke-width="1.55"/>
<line x1="444.22" y1="730.9" x2="444.22" y2="884.6" stroke="#E9E9E9" stroke-width="1.55"/>
<line x1="277.7" y1="743.8" x2="479.4" y2="743.8" stroke="#E9E9E9" stroke-width="1.55"/>
<line x1="277.7" y1="765.22" x2="479.4" y2="765.22" stroke="#E9E9E9" stroke-width="1.55"/>
<line x1="277.7" y1="786.64" x2="479.4" y2="786.64" stroke="#E9E9E9" stroke-width="1.55"/>
<line x1="277.7" y1="808.06" x2="479.4" y2="808.06" stroke="#E9E9E9" stroke-width="1.55"/>
<line x1="277.7" y1="829.48" x2="479.4" y2="829.48" stroke="#E9E9E9" stroke-width="1.55"/>
<line x1="277.7" y1="850.9" x2="479.4" y2="850.9" stroke="#E9E9E9" stroke-width="1.55"/>
<line x1="277.7" y1="872.32" x2="479.4" y2="872.32" stroke="#E9E9E9" stroke-width="1.55"/>
<rect x="286.35" y="734.25" width="42.1" height="19.1" fill="#17BDC3"/>
<rect x="286.35" y="755.67" width="45.11" height="19.1" fill="#17BDC3"/>
<rect x="286.35" y="798.51" width="135.32" height="19.1" fill="#F2756C"/>
<rect x="286.35" y="819.93" width="105.25" height="19.1" fill="#F2756C"/>
<rect x="286.35" y="841.35" width="78.94" height="19.1" fill="#F2756C"/>
<rect x="286.35" y="862.77" width="105.25" height="19.1" fill="#F2756C"/>
<rect x="277.7" y="730.9" width="201.7" height="153.7" fill="none" stroke="#262626" stroke-width="1.2"/>
<rect x="277.7" y="702.8" width="201.7" height="28.1" fill="#D9D9D9" stroke="#262626" stroke-width="1.2"/>
<text x="378.55" y="721.85" font-size="15" text-anchor="middle" fill="#1A1A1A" font-weight="normal" >SNP_9403</text>
<line x1="286.35" y1="884.6" x2="286.35" y2="889.5" stroke="#262626" stroke-width="1.2"/>
<text x="286.35" y="903.8" font-size="15" text-anchor="middle" fill="#4D4D4D" font-weight="normal" >0.00</text>
<line x1="338.97" y1="884.6" x2="338.97" y2="889.5" stroke="#262626" stroke-width="1.2"/>
<text x="338.97" y="903.8" font-size="15" text-anchor="middle" fill="#4D4D4D" font-weight="normal" >0.25</text>
<line x1="391.6" y1="884.6" x2="391.6" y2="889.5" stroke="#262626" stroke-width="1.2"/>
<text x="391.6" y="903.8" font-size="15" text-anchor="middle" fill="#4D4D4D" font-weight="normal" >0.50</text>
<line x1="444.22" y1="884.6" x2="444.22" y2="889.5" stroke="#262626" stroke-width="1.2"/>
<text x="444.22" y="903.8" font-size="15" text-anchor="middle" fill="#4D4D4D" font-weight="normal" >0.75</text>
<text transform="translate(377.4 924.8) scale(1.02 1)" font-size="18" text-anchor="middle" fill="#000" font-weight="normal" >Mean Focal Allele Frequency</text>
<text transform="translate(16.3 615.5) rotate(-90) scale(1.02 1)" font-size="18" text-anchor="middle" fill="#000">Embayment</text>
</svg>
</body></html>
